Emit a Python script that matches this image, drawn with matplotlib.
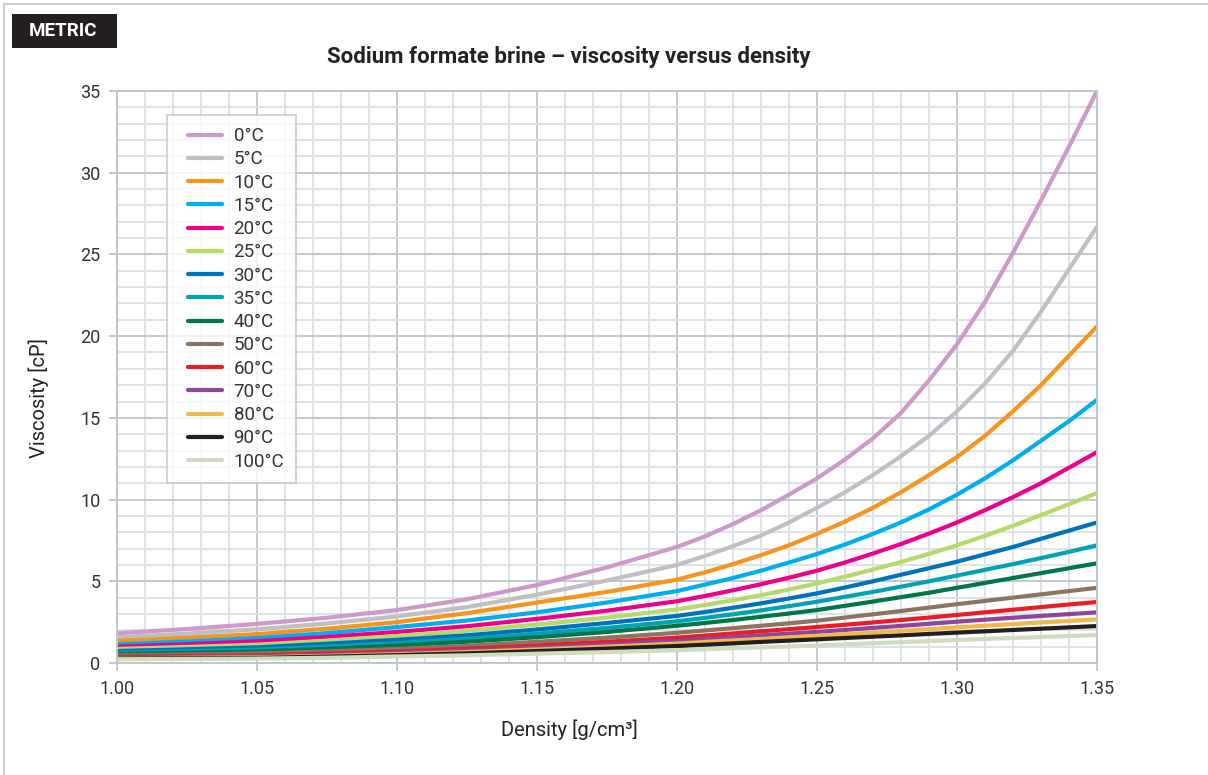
import matplotlib
matplotlib.use("Agg")
import matplotlib.pyplot as plt
from matplotlib.patches import Rectangle
from matplotlib.ticker import MultipleLocator, FormatStrFormatter
from matplotlib.legend_handler import HandlerLine2D

plt.rcParams['font.family'] = ['Roboto', 'DejaVu Sans']

# density grid [g/cm3] and viscosity [cP]
density = [1.00, 1.025, 1.05, 1.075, 1.10, 1.125, 1.15, 1.175, 1.20,
           1.21, 1.22, 1.23, 1.24, 1.25, 1.26, 1.27, 1.28, 1.29, 1.30,
           1.31, 1.32, 1.33, 1.34, 1.35]

visc_0 = [1.82, 2.08, 2.39, 2.77, 3.24, 3.9, 4.77, 5.85, 7.1,
          7.75, 8.5, 9.35, 10.3, 11.3, 12.45, 13.75, 15.3, 17.3, 19.5,
          22.1, 25.1, 28.3, 31.6, 35.0]
visc_5 = [1.57, 1.8, 2.06, 2.42, 2.85, 3.42, 4.18, 5.05, 6.0,
          6.55, 7.15, 7.8, 8.6, 9.5, 10.45, 11.5, 12.65, 13.9, 15.4,
          17.1, 19.1, 21.5, 24.1, 26.7]
visc_10 = [1.35, 1.55, 1.77, 2.1, 2.5, 3.05, 3.7, 4.35, 5.1,
           5.55, 6.05, 6.6, 7.2, 7.9, 8.65, 9.5, 10.45, 11.5, 12.6,
           13.9, 15.4, 17.0, 18.8, 20.6]
visc_15 = [1.14, 1.32, 1.53, 1.83, 2.2, 2.6, 3.1, 3.7, 4.4,
           4.8, 5.2, 5.65, 6.15, 6.67, 7.25, 7.9, 8.6, 9.4, 10.3,
           11.3, 12.4, 13.6, 14.8, 16.1]
visc_20 = [1.0, 1.15, 1.33, 1.6, 1.9, 2.25, 2.7, 3.2, 3.78,
           4.1, 4.45, 4.82, 5.22, 5.65, 6.15, 6.7, 7.28, 7.92, 8.6,
           9.35, 10.15, 11.0, 11.95, 12.9]
visc_25 = [0.86, 0.98, 1.12, 1.37, 1.65, 1.97, 2.35, 2.78, 3.28,
           3.55, 3.84, 4.15, 4.5, 4.87, 5.28, 5.72, 6.18, 6.68, 7.2,
           7.78, 8.4, 9.05, 9.72, 10.4]
visc_30 = [0.73, 0.84, 0.96, 1.18, 1.42, 1.7, 2.05, 2.45, 2.88,
           3.12, 3.38, 3.65, 3.95, 4.26, 4.62, 5.0, 5.4, 5.8, 6.2,
           6.65, 7.1, 7.6, 8.1, 8.6]
visc_35 = [0.63, 0.72, 0.82, 1.0, 1.22, 1.48, 1.8, 2.15, 2.55,
           2.76, 2.98, 3.22, 3.48, 3.75, 4.05, 4.35, 4.67, 5.0, 5.35,
           5.7, 6.05, 6.42, 6.8, 7.2]
visc_40 = [0.55, 0.62, 0.7, 0.87, 1.07, 1.3, 1.58, 1.9, 2.28,
           2.45, 2.63, 2.83, 3.03, 3.24, 3.5, 3.76, 4.03, 4.3, 4.6,
           4.9, 5.2, 5.5, 5.8, 6.1]
visc_50 = [0.47, 0.52, 0.58, 0.71, 0.86, 1.05, 1.3, 1.55, 1.85,
           1.99, 2.13, 2.28, 2.43, 2.59, 2.78, 2.98, 3.18, 3.39, 3.6,
           3.8, 4.0, 4.2, 4.4, 4.6]
visc_60 = [0.39, 0.43, 0.47, 0.58, 0.7, 0.87, 1.07, 1.3, 1.55,
           1.68, 1.81, 1.94, 2.07, 2.2, 2.34, 2.48, 2.63, 2.78, 2.94,
           3.1, 3.26, 3.42, 3.58, 3.73]
visc_70 = [0.33, 0.37, 0.41, 0.5, 0.61, 0.76, 0.94, 1.14, 1.36,
           1.47, 1.58, 1.69, 1.8, 1.9, 2.02, 2.15, 2.27, 2.4, 2.53,
           2.65, 2.77, 2.88, 2.99, 3.1]
visc_80 = [0.29, 0.32, 0.35, 0.44, 0.54, 0.67, 0.83, 1.0, 1.19,
           1.29, 1.38, 1.47, 1.57, 1.66, 1.76, 1.86, 1.97, 2.07, 2.18,
           2.28, 2.38, 2.48, 2.57, 2.67]
visc_90 = [0.27, 0.29, 0.31, 0.39, 0.48, 0.59, 0.73, 0.88, 1.04,
           1.12, 1.2, 1.29, 1.37, 1.45, 1.53, 1.61, 1.69, 1.78, 1.86,
           1.94, 2.02, 2.1, 2.18, 2.26]
visc_100 = [0.23, 0.25, 0.27, 0.32, 0.4, 0.47, 0.57, 0.67, 0.78,
            0.84, 0.9, 0.96, 1.01, 1.07, 1.14, 1.21, 1.27, 1.34, 1.41,
            1.47, 1.53, 1.59, 1.65, 1.71]

labels = ['0°C', '5°C', '10°C', '15°C', '20°C', '25°C', '30°C', '35°C',
          '40°C', '50°C', '60°C', '70°C', '80°C', '90°C', '100°C']
series = [visc_0, visc_5, visc_10, visc_15, visc_20, visc_25, visc_30, visc_35,
          visc_40, visc_50, visc_60, visc_70, visc_80, visc_90, visc_100]
colors = ['#cc99c9', '#bfbfc3', '#f7941d', '#00aeef', '#ec008c', '#b5d96b',
          '#0072bc', '#00a3b4', '#00764a', '#8c7462', '#ed1c24', '#8e44a0',
          '#f0b849', '#231f20', '#cfdcbf']

fig = plt.figure(figsize=(12.08, 7.75), dpi=100)
ax = fig.add_axes([117 / 1208, 1 - 663 / 775, 980 / 1208, 572 / 775])

lines = []
for vals, lab, col in zip(series, labels, colors):
    ln, = ax.plot(density, vals, color=col, lw=3.0, label=lab,
                  solid_capstyle='round', solid_joinstyle='round')
    lines.append(ln)

ax.set_xlim(1.00, 1.35)
ax.set_ylim(0, 35)
ax.xaxis.set_major_locator(MultipleLocator(0.05))
ax.xaxis.set_minor_locator(MultipleLocator(0.01))
ax.yaxis.set_major_locator(MultipleLocator(5))
ax.yaxis.set_minor_locator(MultipleLocator(1))
ax.xaxis.set_major_formatter(FormatStrFormatter('%.2f'))
ax.grid(which='minor', color='#dce1e5', lw=1.3)
ax.grid(which='major', color='#bcc4cb', lw=1.3)
ax.set_axisbelow(True)
for s in ax.spines.values():
    s.set_color('#bcc4cb')
    s.set_linewidth(1.3)
ax.tick_params(which='major', length=6, width=1.3, color='#bcc4cb',
               labelsize=13, labelcolor='#333333', pad=6)
ax.tick_params(which='minor', length=0)

ax.set_xlabel('Density [g/cm³]', fontsize=14.5, color='#222222')
ax.set_ylabel('Viscosity [cP]', fontsize=14.5, color='#222222')
ax.xaxis.set_label_coords((569 - 117) / 980, (663 - 719) / 572)
ax.yaxis.set_label_coords((49 - 117) / 980, (663 - 398) / 572)

leg = ax.legend(handles=lines, loc='upper left',
                bbox_to_anchor=(50 / 980, 1 - 24 / 572),
                handler_map={ln: HandlerLine2D(xpad=0.45) for ln in lines},
                fontsize=13.5, frameon=True, fancybox=False, handlelength=2.3,
                handletextpad=0.6, labelspacing=0.28, borderpad=0.65,
                borderaxespad=0)
leg.get_frame().set_edgecolor('#bcc4cb')
leg.get_frame().set_linewidth(1.3)
for t in leg.get_texts():
    t.set_color('#333333')

fig.text(569 / 1208, 1 - 57 / 775, 'Sodium formate brine – viscosity versus density',
         ha='center', va='center', fontsize=16, fontweight='bold', color='#222222')

# outer frame and METRIC tag
fig.patches.append(Rectangle((4 / 1208, -0.05), 1.1, 1 - 4 / 775 + 0.05,
                             transform=fig.transFigure, fill=False,
                             edgecolor='#c8cdd2', lw=1.5))
fig.patches.append(Rectangle((12 / 1208, 1 - 48 / 775), 105 / 1208, 34 / 775,
                             transform=fig.transFigure, facecolor='#231f20',
                             edgecolor='none'))
fig.text(63 / 1208, 1 - 31 / 775, 'METRIC', ha='center', va='center',
         fontsize=13.5, fontweight='bold', color='white')

fig.savefig('out.png', dpi=100)
